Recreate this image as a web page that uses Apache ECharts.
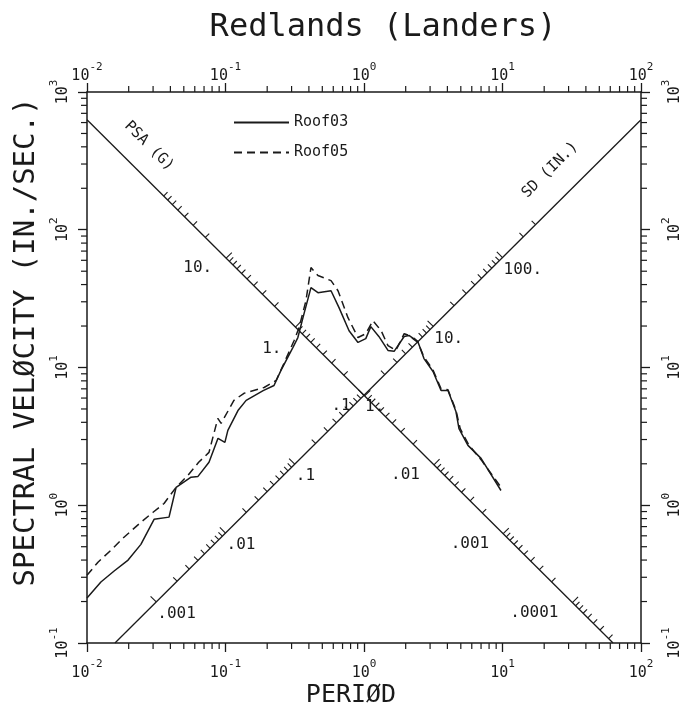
<!DOCTYPE html>
<html>
<head>
<meta charset="utf-8">
<script src="https://cdn.jsdelivr.net/npm/echarts@6/dist/echarts.min.js"></script>
<style>
html, body { margin: 0; padding: 0; background: #fff; }
#main { width: 686px; height: 725px; }
</style>
</head>
<body>
<div id="main"></div>
<script>
// Roof03 (solid) - period (sec) / spectral velocity (in/sec)
const period03 = [0.01, 0.0126, 0.0157, 0.0198, 0.0245, 0.0305, 0.0391, 0.044, 0.0564, 0.0633, 0.076, 0.0883, 0.099, 0.104, 0.123, 0.141, 0.187, 0.224, 0.251, 0.307, 0.333, 0.369, 0.414, 0.465, 0.578, 0.66, 0.78, 0.905, 1.03, 1.12, 1.28, 1.49, 1.65, 1.95, 2.11, 2.45, 2.71, 3.15, 3.6, 4.04, 4.61, 4.85, 5.63, 7.0, 9.75];
const vel03 = [0.212, 0.277, 0.333, 0.40, 0.52, 0.79, 0.82, 1.35, 1.60, 1.62, 2.05, 3.06, 2.86, 3.5, 4.87, 5.77, 6.8, 7.4, 9.5, 14.0, 16.5, 24.6, 38.0, 34.9, 36.1, 27.2, 18.5, 15.2, 16.2, 19.8, 16.8, 13.3, 13.1, 16.8, 17.1, 15.4, 11.6, 9.35, 6.8, 6.8, 4.8, 3.6, 2.72, 2.19, 1.28];

// Roof05 (dashed)
const period05 = [0.01, 0.012, 0.0149, 0.0185, 0.0245, 0.030, 0.036, 0.044, 0.0536, 0.064, 0.076, 0.088, 0.093, 0.115, 0.136, 0.19, 0.232, 0.264, 0.313, 0.34, 0.381, 0.414, 0.465, 0.578, 0.649, 0.766, 0.905, 1.03, 1.16, 1.33, 1.49, 1.70, 1.95, 2.11, 2.45, 2.71, 3.15, 3.6, 4.04, 4.61, 4.95, 5.7, 7.1, 9.75];
const vel05 = [0.31, 0.386, 0.472, 0.586, 0.753, 0.89, 1.03, 1.35, 1.65, 2.05, 2.42, 4.27, 3.93, 5.77, 6.5, 7.16, 8.05, 10.7, 15.7, 19.5, 30.6, 53.1, 46.5, 42.7, 36.1, 23.0, 16.5, 17.6, 21.9, 18.5, 14.4, 13.3, 17.6, 17.1, 15.2, 11.9, 9.6, 7.0, 6.9, 4.9, 3.6, 2.75, 2.1, 1.35];

// tripartite scales: PSA (g) and SD (in.) labels
const psaLabelVals = [10, 1, 0.1, 0.01, 0.001, 0.0001];
const psaLabels = ['10.', '1.', '.1', '.01', '.001', '.0001'];
const sdLabelVals = [0.001, 0.01, 0.1, 1, 10, 100];
const sdLabels = ['.001', '.01', '.1', '1.', '10.', '100.'];

const INK = '#1a1a1a';
const FONT = 'DejaVu Sans Mono';
const G = 386.1;              // in/sec^2
const TWO_PI = 2 * Math.PI;

// point on the PSA axis (V = 2pi/T) and SD axis (V = 2pi*T)
function psaPoint(p) {
  const t = Math.sqrt(TWO_PI * TWO_PI / (G * p));
  return [t, TWO_PI / t];
}
function sdPoint(s) {
  const t = Math.sqrt(s);
  return [t, TWO_PI * t];
}

// minor ticks on the frame
const frameTicks = [];
for (let e = -2; e < 2; e++) {
  for (let k = 2; k <= 9; k++) {
    const t = k * Math.pow(10, e);
    frameTicks.push([t, 0.1, 0], [t, 1000, 1]);
  }
}
for (let e = -1; e < 3; e++) {
  for (let k = 2; k <= 9; k++) {
    const v = k * Math.pow(10, e);
    frameTicks.push([0.01, v, 2], [100, v, 3]);
  }
}

// ticks along the diagonal axes
const diagTicks = [];
for (let e = -5; e <= 1; e++) {
  for (let k = 1; k <= 9; k++) {
    const p = k * Math.pow(10, e);
    if (p <= 80 && p >= 3e-5) diagTicks.push(psaPoint(p).concat([0, k === 1 ? 1 : 0]));
  }
}
for (let e = -3; e <= 2; e++) {
  for (let k = 1; k <= 9; k++) {
    const s = k * Math.pow(10, e);
    if (s <= 300) diagTicks.push(sdPoint(s).concat([1, k === 1 ? 1 : 0]));
  }
}

const diagLabels = [];
psaLabelVals.forEach((p, i) => diagLabels.push(psaPoint(p).concat([0, i])));
sdLabelVals.forEach((s, i) => diagLabels.push(sdPoint(s).concat([1, i])));

const supRich = {
  b: { fontFamily: FONT, fontSize: 15, color: INK, lineHeight: 22, verticalAlign: 'bottom' },
  s: { fontFamily: FONT, fontSize: 11, color: INK, lineHeight: 13, verticalAlign: 'top' }
};
function powLabel(v) {
  const e = Math.round(Math.log10(v));
  return '{b|10}{s|' + e + '}';
}

const axisCommon = {
  type: 'log',
  logBase: 10,
  splitNumber: 4,
  axisLine: { lineStyle: { color: INK, width: 1.5 } },
  axisTick: { inside: false, length: 9, lineStyle: { color: INK, width: 1.3 } },
  splitLine: { show: false },
  axisLabel: { formatter: powLabel, rich: supRich }
};

const chart = echarts.init(document.getElementById('main'));
chart.setOption({
  backgroundColor: '#fff',
  animation: false,
  grid: { left: 87, right: 45, top: 92, bottom: 82 },
  legend: {
    data: ['Roof03', 'Roof05'],
    orient: 'vertical',
    left: 228,
    top: 110,
    itemWidth: 55,
    itemHeight: 14,
    itemGap: 15,
    itemStyle: { opacity: 0 },
    textStyle: { fontFamily: FONT, fontSize: 15, color: INK }
  },
  xAxis: [
    Object.assign({}, axisCommon, { position: 'bottom', min: 0.01, max: 100,
      axisLabel: { formatter: powLabel, rich: supRich, margin: 16 } }),
    Object.assign({}, axisCommon, { position: 'top', min: 0.01, max: 100,
      axisLabel: { formatter: powLabel, rich: supRich, margin: 8 } })
  ],
  yAxis: [
    Object.assign({}, axisCommon, { position: 'left', min: 0.1, max: 1000,
      axisLabel: { formatter: powLabel, rich: supRich, rotate: 90, margin: 16 } }),
    Object.assign({}, axisCommon, { position: 'right', min: 0.1, max: 1000,
      axisLabel: { formatter: powLabel, rich: supRich, rotate: 90, margin: 20 } })
  ],
  graphic: [
    { type: 'text', x: 383, y: 28, style: { text: 'Redlands (Landers)', fontFamily: FONT, fontSize: 32, fill: INK, align: 'center', verticalAlign: 'middle' } },
    { type: 'text', x: 26, y: 342, rotation: Math.PI / 2, style: { text: 'SPECTRAL VELØCITY (IN./SEC.)', fontFamily: FONT, fontSize: 29, fill: INK, align: 'center', verticalAlign: 'middle' } },
    { type: 'text', x: 351, y: 695, style: { text: 'PERIØD', fontFamily: FONT, fontSize: 25, fill: INK, align: 'center', verticalAlign: 'middle' } },
    { type: 'text', x: 149, y: 146, rotation: -Math.PI / 4, style: { text: 'PSA (G)', fontFamily: FONT, fontSize: 15, fill: INK, align: 'center', verticalAlign: 'middle' } },
    { type: 'text', x: 550, y: 170, rotation: Math.PI / 4, style: { text: 'SD (IN.)', fontFamily: FONT, fontSize: 15, fill: INK, align: 'center', verticalAlign: 'middle' } }
  ],
  series: [
    {
      name: 'PSA axis', type: 'line', symbol: 'none', silent: true,
      data: [[0.01, TWO_PI / 0.01], [TWO_PI / 0.1, 0.1]],
      lineStyle: { color: INK, width: 1.3 }
    },
    {
      name: 'SD axis', type: 'line', symbol: 'none', silent: true,
      data: [[0.1 / TWO_PI, 0.1], [100, TWO_PI * 100]],
      lineStyle: { color: INK, width: 1.3 }
    },
    {
      name: 'frame ticks', type: 'custom', silent: true, clip: false,
      data: frameTicks,
      renderItem: function (params, api) {
        const pt = api.coord([api.value(0), api.value(1)]);
        const d = [[0, 6], [0, -6], [-6, 0], [6, 0]][api.value(2)];
        return { type: 'line', shape: { x1: pt[0], y1: pt[1], x2: pt[0] + d[0], y2: pt[1] + d[1] },
          style: { stroke: INK, lineWidth: 1.2 } };
      }
    },
    {
      name: 'diag ticks', type: 'custom', silent: true, clip: false,
      data: diagTicks,
      renderItem: function (params, api) {
        const pt = api.coord([api.value(0), api.value(1)]);
        const len = api.value(3) ? 8 : 5.5;
        const s = Math.SQRT1_2 * len;
        const d = api.value(2) === 0 ? [s, -s] : [-s, -s];
        return { type: 'line', shape: { x1: pt[0], y1: pt[1], x2: pt[0] + d[0], y2: pt[1] + d[1] },
          style: { stroke: INK, lineWidth: 1.1 } };
      }
    },
    {
      name: 'diag labels', type: 'custom', silent: true, clip: false,
      data: diagLabels,
      renderItem: function (params, api) {
        const pt = api.coord([api.value(0), api.value(1)]);
        const isPsa = api.value(2) === 0;
        const idx = api.value(3);
        // the "1." label on the PSA axis sits lower, clear of the curves
        const dy = isPsa ? (idx === 1 ? 22 : 10) : 12;
        return {
          type: 'text',
          x: pt[0] + (isPsa ? -14 : 1),
          y: pt[1] + dy,
          style: {
            text: isPsa ? psaLabels[idx] : sdLabels[idx],
            fontFamily: FONT, fontSize: 16, fill: INK,
            align: isPsa ? 'right' : 'left', verticalAlign: 'middle'
          }
        };
      }
    },
    {
      name: 'Roof03', type: 'line', symbol: 'none',
      data: period03.map((t, i) => [t, vel03[i]]),
      lineStyle: { color: INK, width: 1.5 },
      itemStyle: { color: INK }
    },
    {
      name: 'Roof05', type: 'line', symbol: 'none',
      data: period05.map((t, i) => [t, vel05[i]]),
      lineStyle: { color: INK, width: 1.5, type: [8, 5] },
      itemStyle: { color: INK }
    }
  ]
});
</script>
</body>
</html>
